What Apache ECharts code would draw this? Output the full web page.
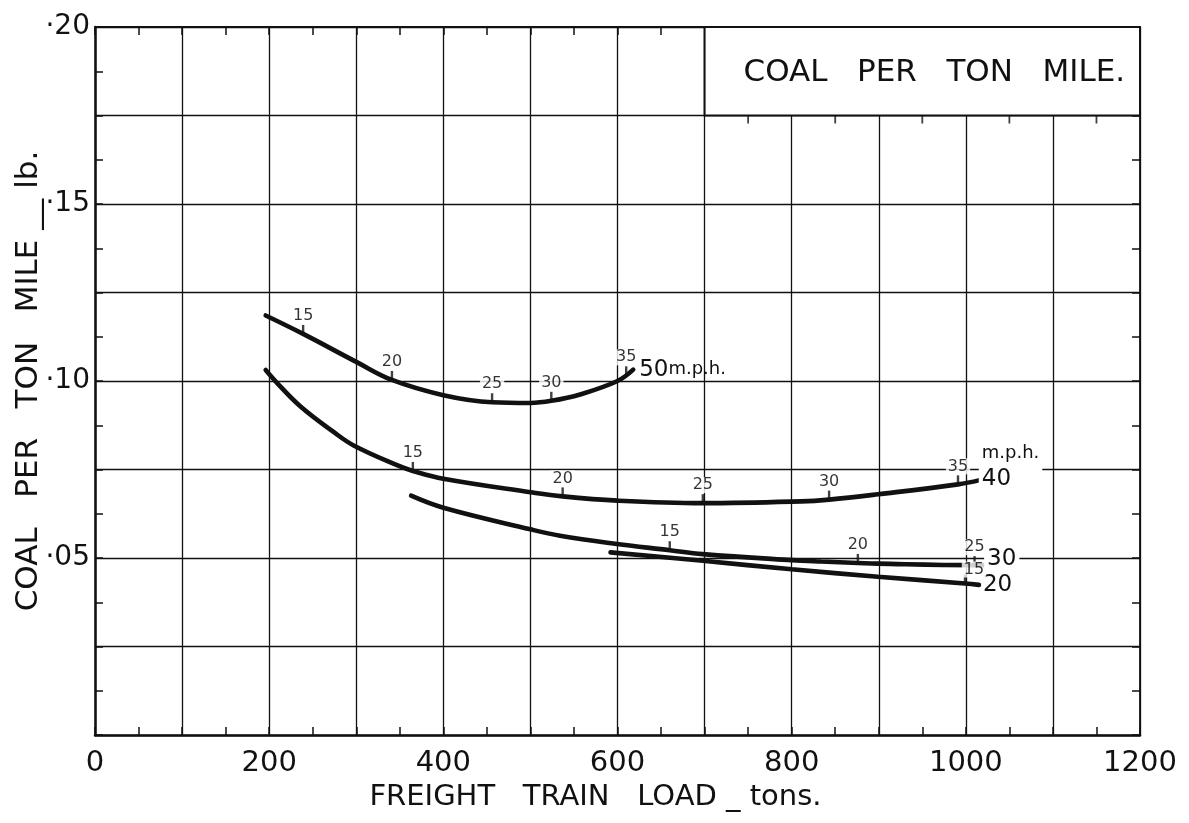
<!DOCTYPE html>
<html>
<head>
<meta charset="utf-8">
<script src="https://cdn.jsdelivr.net/npm/echarts@6.0.0/dist/echarts.min.js"></script>
<style>
  html, body { margin: 0; padding: 0; background: #fff; }
  #chart { width: 1189px; height: 823px; }
</style>
</head>
<body>
<div id="chart"></div>
<script>
// ---------- data ----------
const xLabelTicks = [0, 200, 400, 600, 800, 1000, 1200];
const yLabelTicks = [0.05, 0.10, 0.15, 0.20];

const titleText = 'COAL   PER   TON   MILE.';
const xName = 'FREIGHT   TRAIN   LOAD _ tons.';
const yName = 'COAL   PER   TON   MILE __ lb.';

// curve: 50 m.p.h.
const load50 = [196, 239, 300, 341, 400, 456, 500, 524, 557, 600, 618];
const coal50 = [0.1185, 0.1133, 0.1054, 0.1003, 0.0960, 0.0940, 0.0938, 0.0944, 0.0962, 0.1000, 0.1032];
// curve: 40 m.p.h.
const load40 = [196, 210, 236, 274, 297, 349, 365, 400, 500, 537, 600, 698, 811, 843, 899, 991, 1016];
const coal40 = [0.1031, 0.0992, 0.0928, 0.0856, 0.0818, 0.0760, 0.0746, 0.0724, 0.0686, 0.0674, 0.0662, 0.0655, 0.0660, 0.0665, 0.0680, 0.0708, 0.0720];
// curve: 30 m.p.h.
const load30 = [363, 400, 500, 534, 595, 660, 698, 800, 834, 876, 899, 1010, 1021];
const coal30 = [0.0676, 0.0642, 0.0581, 0.0563, 0.0541, 0.0522, 0.0511, 0.0494, 0.0490, 0.0486, 0.0484, 0.0480, 0.0480];
// curve: 20 m.p.h.
const load20 = [592, 698, 800, 899, 999, 1015];
const coal20 = [0.0516, 0.0492, 0.0468, 0.0447, 0.0428, 0.0424];

// speed marks along the curves
const markLoad50 = [239, 341, 456, 524, 610];
const markCoal50 = [0.1133, 0.1003, 0.0940, 0.0944, 0.1016];
const markMph50  = ['15', '20', '25', '30', '35'];
const markLoad40 = [365, 537, 698, 843, 991];
const markCoal40 = [0.0746, 0.0674, 0.0655, 0.0665, 0.0708];
const markMph40  = ['15', '20', '25', '30', '35'];
const markLoad30 = [660, 876, 1010];
const markCoal30 = [0.0522, 0.0486, 0.0480];
const markMph30  = ['15', '20', '25'];
const markLoad20 = [999];
const markCoal20 = [0.0428];
const markMph20  = ['15'];

// title box corners (data units) and ticks drawn along its lower edge
const boxLoads = [700, 1200];
const boxCoal = [0.175, 0.20];
const boxTickLoads = [750, 850, 950, 1050, 1150];

// ---------- chart ----------
const FONT = 'DejaVu Sans';
const INK = '#111';
const pairs = (xs, ys) => xs.map((x, i) => [x, ys[i]]);

const chart = echarts.init(document.getElementById('chart'), null, { renderer: 'canvas' });

function curve(name, xs, ys, endFmt, endOffset, rich, bg) {
  return {
    name, type: 'line', data: pairs(xs, ys), smooth: 0.4,
    showSymbol: false, symbol: 'none', z: 3,
    lineStyle: { color: INK, width: 4.6, cap: 'round' },
    emphasis: { disabled: true },
    endLabel: {
      show: true, formatter: endFmt, offset: endOffset, distance: 3,
      color: INK, fontFamily: FONT, fontSize: 22,
      backgroundColor: bg === false ? 'transparent' : '#fff', padding: [0, 3],
      rich: rich
    }
  };
}

function marks(name, xs, ys, labels, labelOffset, down) {
  return {
    name, type: 'scatter', data: pairs(xs, ys), z: 6, clip: false,
    symbol: 'rect', symbolSize: down ? [1.8, 8] : [2.4, 9],
    symbolOffset: [0, down ? '50%' : '-50%'],
    itemStyle: { color: INK },
    emphasis: { disabled: true },
    label: {
      show: !!labels, position: 'top', distance: 1, offset: labelOffset || [0, 0],
      formatter: p => labels ? labels[p.dataIndex] : '',
      color: '#000', fontFamily: FONT, fontSize: 16,
      backgroundColor: '#fff', padding: [0, 2]
    }
  };
}

const option = {
  animation: false,
  backgroundColor: '#fff',
  textStyle: { fontFamily: FONT, color: INK },
  grid: { left: 95, right: 49, top: 27, bottom: 88, outerBoundsMode: 'none', containLabel: false },
  xAxis: [
    {
      type: 'value', min: 0, max: 1200, interval: 100, position: 'bottom',
      name: xName, nameLocation: 'middle', nameGap: 42,
      nameTextStyle: { fontFamily: FONT, fontSize: 29, color: INK, padding: [0, 44, 0, 0] },
      axisLine: { show: true, onZero: false, lineStyle: { color: INK, width: 2.5 } },
      axisTick: { show: true, inside: true, length: 8, lineStyle: { color: INK, width: 1.5 } },
      minorTick: { show: true, splitNumber: 2, length: 8, lineStyle: { color: INK, width: 1.5 } },
      axisLabel: {
        margin: 14, fontFamily: FONT, fontSize: 29, color: INK,
        formatter: v => xLabelTicks.includes(v) ? String(v) : ''
      },
      splitLine: { show: true, lineStyle: { color: INK, width: 1.3 } }
    },
    {
      type: 'value', min: 0, max: 1200, interval: 100, position: 'top',
      axisLine: { show: true, onZero: false, lineStyle: { color: INK, width: 1.8 } },
      axisTick: { show: true, inside: true, length: 8, lineStyle: { color: INK, width: 1.5 } },
      minorTick: { show: true, splitNumber: 2, length: 8, lineStyle: { color: INK, width: 1.5 } },
      axisLabel: { show: false },
      splitLine: { show: false }
    }
  ],
  yAxis: [
    {
      type: 'value', min: 0, max: 0.2, interval: 0.025, position: 'left',
      name: yName, nameLocation: 'middle', nameGap: 51, nameRotate: 90, nameMoveOverlap: false,
      nameTextStyle: { fontFamily: FONT, fontSize: 31, color: INK },
      axisLine: { show: true, onZero: false, lineStyle: { color: INK, width: 2.5 } },
      axisTick: { show: true, inside: true, length: 8, lineStyle: { color: INK, width: 1.5 } },
      minorTick: { show: true, splitNumber: 2, length: 8, lineStyle: { color: INK, width: 1.5 } },
      axisLabel: {
        margin: 5, fontFamily: FONT, fontSize: 28, color: INK,
        formatter: v => {
          const hit = yLabelTicks.find(t => Math.abs(t - v) < 1e-6);
          return hit ? '·' + String(Math.round(hit * 100)).padStart(2, '0') : '';
        }
      },
      splitLine: { show: true, lineStyle: { color: INK, width: 1.3 } }
    },
    {
      type: 'value', min: 0, max: 0.2, interval: 0.025, position: 'right',
      axisLine: { show: true, onZero: false, lineStyle: { color: INK, width: 1.8 } },
      axisTick: { show: true, inside: true, length: 8, lineStyle: { color: INK, width: 1.5 } },
      minorTick: { show: true, splitNumber: 2, length: 8, lineStyle: { color: INK, width: 1.5 } },
      axisLabel: { show: false },
      splitLine: { show: false }
    }
  ],
  series: [
    // title box
    {
      name: 'title', type: 'line', data: [], z: 5,
      markArea: {
        silent: true,
        itemStyle: { color: '#fff', borderColor: INK, borderWidth: 2 },
        label: {
          show: true, position: 'inside', offset: [12, 2],
          formatter: titleText, color: INK, fontFamily: FONT, fontSize: 31
        },
        emphasis: { disabled: true },
        data: [[{ coord: [boxLoads[0], boxCoal[0]] }, { coord: [boxLoads[1], boxCoal[1]] }]]
      }
    },
    curve('50 m.p.h.', load50, coal50, '{n|50}{u|m.p.h.}', [0, 0], {
      n: { fontFamily: FONT, fontSize: 23, color: INK },
      u: { fontFamily: FONT, fontSize: 18, color: INK }
    }, false),
    curve('40 m.p.h.', load40, coal40, '{u|m.p.h.}\n{n|40}', [-4, -13], {
      n: { fontFamily: FONT, fontSize: 23, color: INK, lineHeight: 28 },
      u: { fontFamily: FONT, fontSize: 18, color: INK, lineHeight: 24 }
    }),
    curve('30 m.p.h.', load30, coal30, '{n|30}', [-3, -6], {
      n: { fontFamily: FONT, fontSize: 23, color: INK }
    }),
    curve('20 m.p.h.', load20, coal20, '{n|20}', [-2, 0], {
      n: { fontFamily: FONT, fontSize: 23, color: INK }
    }, false),
    marks('marks50', markLoad50, markCoal50, markMph50),
    marks('marks40', markLoad40, markCoal40, markMph40),
    marks('marks30', markLoad30, markCoal30, markMph30),
    marks('marks20', markLoad20, markCoal20, markMph20, [9, 4]),
    // small ticks hanging under the title box
    marks('boxTicks', boxTickLoads, boxTickLoads.map(() => boxCoal[0]), null, null, true)
  ]
};

chart.setOption(option);
</script>
</body>
</html>
